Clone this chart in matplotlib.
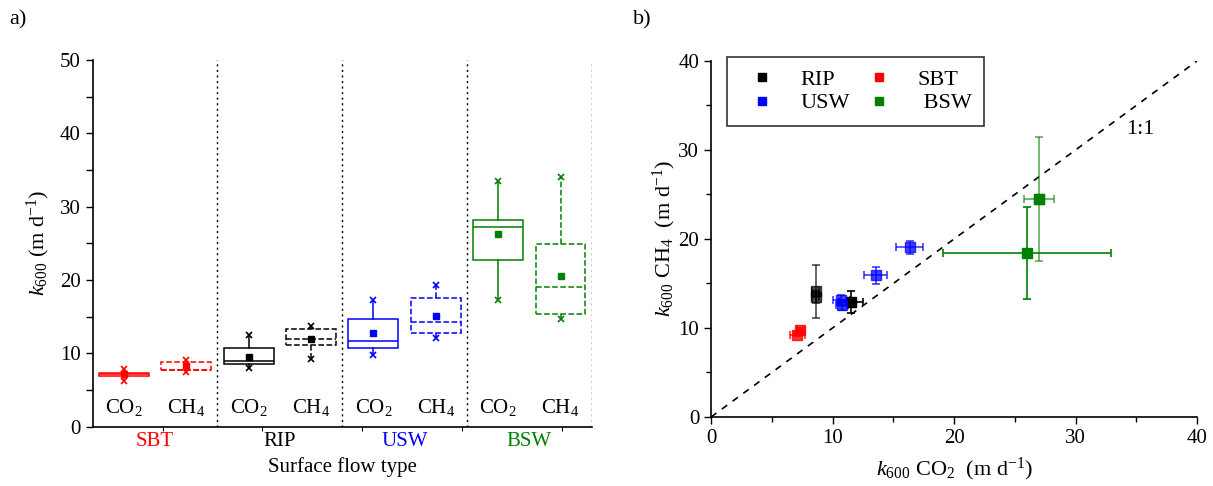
import matplotlib
matplotlib.use("Agg")
import matplotlib.pyplot as plt
from matplotlib.transforms import blended_transform_factory

# ---------------- data ----------------
groups = ["SBT", "RIP", "USW", "BSW"]
group_colors = ["#ff0000", "#000000", "#0000ff", "#008000"]
gases = ["CO$_2$", "CH$_4$"]

# box statistics per group: [CO2, CH4]
box_q1 = [[6.9, 7.65], [8.55, 11.15], [10.75, 12.75], [22.7, 15.3]]
box_med = [[7.1, 7.65], [9.0, 12.0], [11.7, 14.25], [27.2, 19.0]]
box_q3 = [[7.3, 8.8], [10.75, 13.25], [14.7, 17.5], [28.2, 24.95]]
box_mean = [[7.1, 8.2], [9.55, 12.0], [12.75, 15.1], [26.3, 20.6]]
box_min = [[6.2, 7.4], [8.0, 9.25], [9.8, 12.1], [17.3, 14.6]]
box_max = [[7.9, 9.1], [12.5, 13.65], [17.2, 19.35], [33.5, 34.05]]

# scatter panel: k600 CO2 vs k600 CH4
rip_x = [8.6, 8.6, 11.5]
rip_y = [14.1, 13.5, 12.9]
rip_xerr = [0.25, 0.25, 1.0]
rip_yerr = [3.0, 0.7, 1.2]

sbt_x = [7.35, 7.1]
sbt_y = [9.8, 9.25]
sbt_xerr = [0.3, 0.6]
sbt_yerr = [0.2, 0.2]

usw_x = [10.7, 10.8, 13.55, 16.35]
usw_y = [13.1, 12.6, 15.9, 19.05]
usw_xerr = [0.7, 0.5, 0.95, 1.1]
usw_yerr = [0.6, 0.6, 0.95, 0.7]

bsw_x = [27.0, 26.0]
bsw_y = [24.5, 18.4]
bsw_xerr = [1.25, 6.9]
bsw_yerr = [7.0, 5.15]

one_to_one = [0, 40]

# ---------------- style ----------------
plt.rcParams['font.family'] = ['Liberation Serif', 'DejaVu Serif']
plt.rcParams['mathtext.fontset'] = 'custom'
plt.rcParams['mathtext.rm'] = 'Liberation Serif'
plt.rcParams['mathtext.it'] = 'Liberation Serif:italic'
plt.rcParams['mathtext.bf'] = 'Liberation Serif:bold'

fig = plt.figure(figsize=(12.13, 4.86), dpi=100)

# ---------------- panel a ----------------
ax1 = fig.add_axes([0.0764, 0.1224, 0.4114, 0.7541])
stats = []
positions = []
styles = []
colors = []
for gi, g in enumerate(groups):
    for k in range(2):
        stats.append(dict(med=box_med[gi][k], q1=box_q1[gi][k], q3=box_q3[gi][k],
                          whislo=box_min[gi][k], whishi=box_max[gi][k],
                          mean=box_mean[gi][k],
                          fliers=[box_min[gi][k], box_max[gi][k]]))
        positions.append(2 * gi + 0.5 + k)
        styles.append('-' if k == 0 else '--')
        colors.append(group_colors[gi])

for s, p, ls, c in zip(stats, positions, styles, colors):
    ax1.bxp([s], positions=[p], widths=0.8, showmeans=True, showcaps=False,
            patch_artist=True,
            boxprops=dict(facecolor='white', edgecolor=c, linestyle=ls, linewidth=1.1),
            whiskerprops=dict(color=c, linestyle=ls, linewidth=1.1),
            medianprops=dict(color=c, linestyle=ls, linewidth=1.1),
            meanprops=dict(marker='s', markerfacecolor=c, markeredgecolor=c, markersize=5),
            flierprops=dict(marker='x', markeredgecolor=c, markersize=5, markeredgewidth=1.2))
    lbl = gases[0] if ls == '-' else gases[1]
    ax1.text(p, 2.6, lbl, ha='center', va='center', fontsize=15)

for xv in [2, 4, 6, 8]:
    ax1.axvline(xv, color='black', linestyle=(0, (1.5, 2.5)), linewidth=1)

ax1.set_xlim(0, 8)
ax1.set_ylim(0, 50)
ax1.spines['top'].set_visible(False)
ax1.spines['right'].set_visible(False)
ax1.spines['left'].set_linewidth(1.2)
ax1.spines['bottom'].set_linewidth(1.2)
ax1.set_yticks([0, 10, 20, 30, 40, 50])
ax1.set_yticks([5, 15, 25, 35, 45], minor=True)
ax1.tick_params(axis='y', which='both', direction='out', length=5, width=1, labelsize=15)
ax1.set_xticks([1.12, 2.72, 4.32, 5.92, 7.52])
ax1.set_xticklabels([])
ax1.tick_params(axis='x', which='both', direction='out', length=3, width=0.8)
ax1.set_ylabel("$k_{600}$ (m d$^{-1}$)", fontsize=16, labelpad=6)

tr = blended_transform_factory(ax1.transData, ax1.transAxes)
for gi, g in enumerate(groups):
    ax1.text(2 * gi + 1, -0.04, g, color=group_colors[gi], transform=tr,
             ha='center', va='center', fontsize=15)
ax1.text(4, -0.11, "Surface flow type", transform=tr, ha='center', va='center', fontsize=15)

# ---------------- panel b ----------------
ax2 = fig.add_axes([0.5862, 0.142, 0.4006, 0.7325])
ax2.plot(one_to_one, one_to_one, color='black', linestyle=(0, (4, 4)), linewidth=1.2)
ax2.text(35.3, 32.3, "1:1", fontsize=16, ha='center', va='center')

ekw = dict(fmt='s', markersize=7, capsize=3, elinewidth=1.2, capthick=1.2)
# RIP
ax2.errorbar(rip_x[0], rip_y[0], xerr=rip_xerr[0], yerr=rip_yerr[0], color='black', alpha=0.7, **ekw)
ax2.errorbar(rip_x[1], rip_y[1], xerr=rip_xerr[1], yerr=rip_yerr[1], color='black', alpha=0.7, **ekw)
ax2.errorbar(rip_x[2], rip_y[2], xerr=rip_xerr[2], yerr=rip_yerr[2], color='black', **ekw)
# SBT
for i in range(len(sbt_x)):
    ax2.errorbar(sbt_x[i], sbt_y[i], xerr=sbt_xerr[i], yerr=sbt_yerr[i], color='#ff0000', alpha=0.8, **ekw)
# USW
for i in range(len(usw_x)):
    ax2.errorbar(usw_x[i], usw_y[i], xerr=usw_xerr[i], yerr=usw_yerr[i], color='#0000ff', alpha=0.75, **ekw)
# BSW
ax2.errorbar(bsw_x[0], bsw_y[0], xerr=bsw_xerr[0], yerr=bsw_yerr[0], color='#008000', alpha=0.55,
             fmt='s', markersize=7, capsize=3, elinewidth=1.4, capthick=1.4)
ax2.plot(bsw_x[0], bsw_y[0], 's', color='#008000', markersize=7)
ax2.errorbar(bsw_x[1], bsw_y[1], xerr=bsw_xerr[1], yerr=bsw_yerr[1], color='#008000', **ekw)

ax2.set_xlim(0, 40)
ax2.set_ylim(0, 40)
ax2.spines['top'].set_visible(False)
ax2.spines['right'].set_visible(False)
ax2.spines['left'].set_linewidth(1.2)
ax2.spines['bottom'].set_linewidth(1.2)
ax2.set_xticks([0, 10, 20, 30, 40])
ax2.set_xticks([5, 15, 25, 35], minor=True)
ax2.set_yticks([0, 10, 20, 30, 40])
ax2.set_yticks([5, 15, 25, 35], minor=True)
ax2.tick_params(which='major', direction='out', length=5, width=1, labelsize=15)
ax2.tick_params(which='minor', direction='out', length=3.5, width=1)
ax2.set_xlabel("$k_{600}$ CO$_2$  (m d$^{-1}$)", fontsize=16, labelpad=6)
ax2.set_ylabel("$k_{600}$ CH$_4$  (m d$^{-1}$)", fontsize=16, labelpad=0)

handles = [
    plt.Line2D([], [], marker='s', color='black', linestyle='none', markersize=6, label='RIP'),
    plt.Line2D([], [], marker='s', color='#0000ff', linestyle='none', markersize=6, label='USW'),
    plt.Line2D([], [], marker='s', color='#ff0000', linestyle='none', markersize=6, label='SBT'),
    plt.Line2D([], [], marker='s', color='#008000', linestyle='none', markersize=6, label=' BSW'),
]
leg = ax2.legend(handles=handles, ncol=2, loc='upper left', bbox_to_anchor=(0.033, 1.01),
                 fontsize=16, frameon=True, fancybox=False, edgecolor='black',
                 handlelength=2.0, handletextpad=0.75, columnspacing=0.3,
                 borderpad=0.55, labelspacing=0.12, borderaxespad=0)
leg.get_frame().set_linewidth(1.2)

fig.text(18 / 1213, 1 - 20 / 486, "a)", fontsize=16, ha='center', va='center')
fig.text(642 / 1213, 1 - 20 / 486, "b)", fontsize=16, ha='center', va='center')

fig.savefig("out.png", dpi=100)
